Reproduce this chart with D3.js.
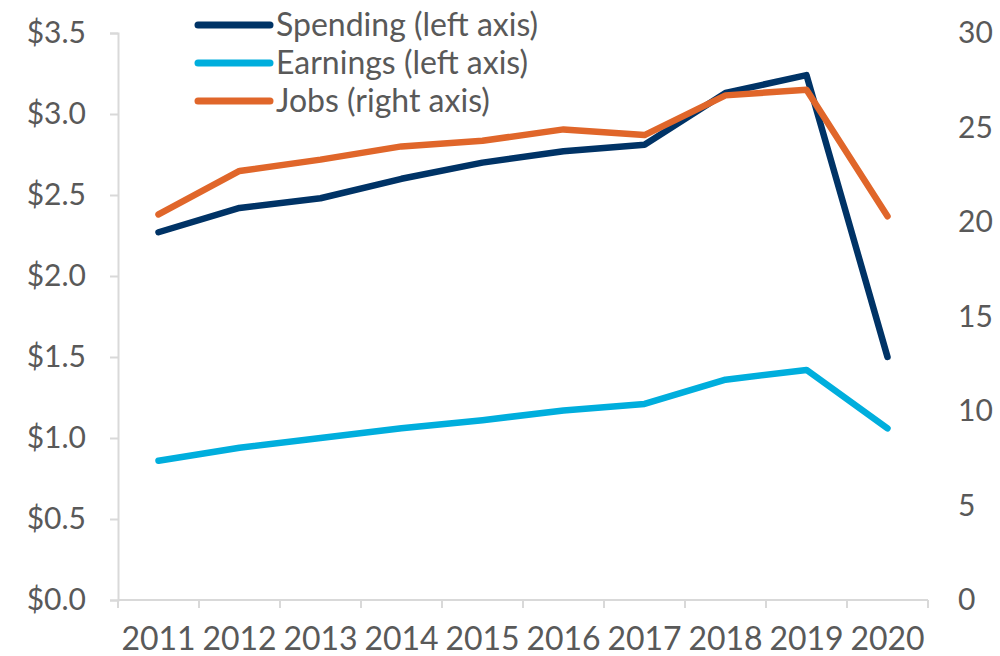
<!DOCTYPE html>
<html>
<head>
<meta charset="utf-8">
<script src="https://cdn.jsdelivr.net/npm/d3@7"></script>
<style>
  body { margin: 0; background: #fff; }
  text { font-family: Lato, "Open Sans", sans-serif; fill: #595959; }
</style>
</head>
<body>
<div id="chart"></div>
<script>
var years = ['2011','2012','2013','2014','2015','2016','2017','2018','2019','2020'];
var spending = [2.27, 2.42, 2.48, 2.60, 2.70, 2.77, 2.81, 3.13, 3.24, 1.50];
var earnings = [0.86, 0.94, 1.00, 1.06, 1.11, 1.17, 1.21, 1.36, 1.42, 1.06];
var jobs = [20.4, 22.7, 23.3, 24.0, 24.3, 24.9, 24.6, 26.7, 27.0, 20.3];
var leftTicks = [0, 0.5, 1.0, 1.5, 2.0, 2.5, 3.0, 3.5];
var rightTicks = [0, 5, 10, 15, 20, 25, 30];

var series = [
    {name: 'Spending (left axis)', values: spending, axis: 'left', color: '#003366'},
    {name: 'Earnings (left axis)', values: earnings, axis: 'left', color: '#00AEDD'},
    {name: 'Jobs (right axis)', values: jobs, axis: 'right', color: '#E0662A'}
];

var width = 1000, height = 656;
var plotLeft = 118, plotRight = 928, plotTop = 33, plotBottom = 600;

var svg = d3.select("#chart")
    .append("svg")
    .attr("width", width)
    .attr("height", height);

var x = d3.scaleBand()
    .domain(years)
    .range([plotLeft, plotRight]);

var yLeft = d3.scaleLinear()
    .domain([0, 3.5])
    .range([plotBottom, plotTop]);

var yRight = d3.scaleLinear()
    .domain([0, 30])
    .range([plotBottom, plotTop]);

// left axis
var gl = svg.append("g")
    .attr("transform", "translate(" + plotLeft + ",0)")
    .call(d3.axisLeft(yLeft).tickValues(leftTicks).tickSize(8).tickPadding(24)
        .tickFormat(function(d) { return "$" + d3.format(".1f")(d); }));
gl.select(".domain").attr("stroke", "#d9d9d9").attr("stroke-width", 2);
gl.selectAll(".tick line").attr("stroke", "#d9d9d9").attr("stroke-width", 2);
gl.selectAll(".tick text").attr("font-size", "30px").style("fill", "#595959");

// right axis (labels only)
var gr = svg.append("g")
    .attr("transform", "translate(" + plotRight + ",0)")
    .call(d3.axisRight(yRight).tickValues(rightTicks).tickSize(0).tickPadding(30));
gr.select(".domain").remove();
gr.selectAll(".tick text").attr("font-size", "30px").style("fill", "#595959");

// bottom axis with ticks between categories
svg.append("line")
    .attr("x1", plotLeft).attr("x2", plotRight)
    .attr("y1", plotBottom).attr("y2", plotBottom)
    .attr("stroke", "#d9d9d9").attr("stroke-width", 2);

svg.selectAll(".xtick")
    .data(years.concat(['end']))
    .enter()
    .append("line")
    .attr("x1", function(d, i) { return plotLeft + i * x.bandwidth(); })
    .attr("x2", function(d, i) { return plotLeft + i * x.bandwidth(); })
    .attr("y1", plotBottom)
    .attr("y2", plotBottom + 8)
    .attr("stroke", "#d9d9d9")
    .attr("stroke-width", 2);

svg.selectAll(".xlabel")
    .data(years)
    .enter()
    .append("text")
    .attr("x", function(d) { return x(d) + x.bandwidth() / 2; })
    .attr("y", 650)
    .attr("text-anchor", "middle")
    .attr("font-size", "32px")
    .text(function(d) { return d; });

// lines
series.forEach(function(s) {
    var yScale = s.axis === 'left' ? yLeft : yRight;
    var line = d3.line()
        .x(function(d, i) { return x(years[i]) + x.bandwidth() / 2; })
        .y(function(d) { return yScale(d); });
    svg.append("path")
        .datum(s.values)
        .attr("d", line)
        .attr("fill", "none")
        .attr("stroke", s.color)
        .attr("stroke-width", 6.5)
        .attr("stroke-linecap", "round")
        .attr("stroke-linejoin", "round");
});

// legend
var legend = svg.selectAll(".legend")
    .data(series)
    .enter()
    .append("g")
    .attr("transform", function(d, i) { return "translate(198," + (25 + i * 38) + ")"; });

legend.append("line")
    .attr("x1", 0).attr("x2", 72)
    .attr("y1", 0).attr("y2", 0)
    .attr("stroke", function(d) { return d.color; })
    .attr("stroke-width", 7)
    .attr("stroke-linecap", "round");

legend.append("text")
    .attr("x", 78)
    .attr("y", 0)
    .attr("dy", "0.35em")
    .attr("font-size", "32px")
    .text(function(d) { return d.name; });
</script>
</body>
</html>
